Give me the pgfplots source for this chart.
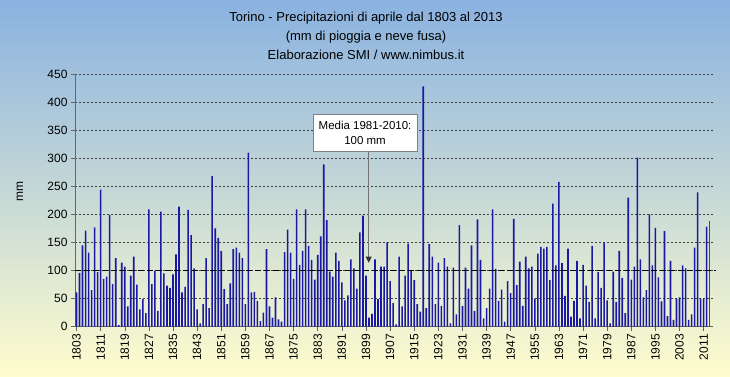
\documentclass[border=0pt]{standalone}
\usepackage{pgfplots}
\pgfplotsset{compat=1.18}
\usepackage{pgfplotstable}
\usetikzlibrary{arrows.meta}
\usepackage{fontspec}
\setmainfont{Liberation Sans}
\definecolor{bgtop}{RGB}{138,178,224}
\definecolor{bgbot}{RGB}{255,253,206}
\definecolor{barblue}{RGB}{25,25,165}
\pgfplotstableread{
year mm
1803 61
1804 96
1805 145
1806 171
1807 132
1808 65
1809 177
1810 97
1811 244
1812 85
1813 89
1814 199
1815 76
1816 122
1817 3
1818 114
1819 107
1820 36
1821 91
1822 125
1823 75
1824 31
1825 49
1826 24
1827 209
1828 76
1829 100
1830 28
1831 205
1832 95
1833 73
1834 69
1835 93
1836 129
1837 214
1838 61
1839 71
1840 208
1841 163
1842 104
1843 31
1844 6
1845 40
1846 122
1847 33
1848 268
1849 175
1850 158
1851 135
1852 67
1853 40
1854 77
1855 138
1856 141
1857 132
1858 122
1859 40
1860 310
1861 61
1862 62
1863 46
1864 10
1865 25
1866 138
1867 36
1868 16
1869 52
1870 13
1871 9
1872 133
1873 173
1874 132
1875 85
1876 209
1877 110
1878 135
1879 209
1880 144
1881 119
1882 84
1883 128
1884 161
1885 289
1886 190
1887 98
1888 89
1889 132
1890 117
1891 79
1892 47
1893 56
1894 120
1895 104
1896 68
1897 168
1898 198
1899 91
1900 16
1901 23
1902 120
1903 49
1904 107
1905 107
1906 150
1907 81
1908 42
1909 4
1910 125
1911 36
1912 91
1913 148
1914 99
1915 83
1916 40
1917 27
1918 428
1919 33
1920 147
1921 125
1922 40
1923 114
1924 37
1925 122
1926 107
1927 6
1928 105
1929 22
1930 181
1931 37
1932 105
1933 68
1934 145
1935 28
1936 191
1937 119
1938 15
1939 33
1940 68
1941 209
1942 103
1943 46
1944 66
1945 9
1946 81
1947 60
1948 192
1949 74
1950 116
1951 37
1952 125
1953 104
1954 107
1955 50
1956 130
1957 142
1958 139
1959 142
1960 83
1961 219
1962 109
1963 258
1964 113
1965 55
1966 139
1967 18
1968 46
1969 117
1970 15
1971 110
1972 73
1973 44
1974 144
1975 15
1976 97
1977 69
1978 150
1979 47
1980 6
1981 98
1982 44
1983 135
1984 87
1985 24
1986 230
1987 84
1988 107
1989 301
1990 120
1991 52
1992 65
1993 200
1994 109
1995 176
1996 88
1997 45
1998 170
1999 19
2000 117
2001 12
2002 50
2003 52
2004 109
2005 104
2006 12
2007 22
2008 141
2009 239
2010 50
2011 49
2012 178
}\datatable
\begin{document}
\begin{tikzpicture}[x=1pt,y=1pt]
\shade[top color=bgtop, bottom color=bgbot] (0pt,0pt) rectangle (730pt,377pt);
\useasboundingbox (0pt,0pt) rectangle (730pt,377pt);
\node[font=\fontsize{13}{15}\selectfont] at (366pt,359pt) {Torino - Precipitazioni di aprile dal 1803 al 2013};
\node[font=\fontsize{13}{15}\selectfont] at (366pt,340pt) {(mm di pioggia e neve fusa)};
\node[font=\fontsize{13}{15}\selectfont] at (366pt,322pt) {Elaborazione SMI / www.nimbus.it};
\node[font=\fontsize{12}{14}\selectfont, rotate=90] at (20pt,185pt) {mm};
\begin{axis}[
  at={(75pt,50.3pt)}, anchor=south west,
  scale only axis, width=637.7pt, height=252.7pt,
  xmin=1802.5, xmax=2014, ymin=0, ymax=450,
  axis x line=bottom, axis y line=left,
  axis line style={-, black!60, line width=0.6pt},
  xtick={1803,1811,...,2011},
  minor x tick num=7,
  ytick={0,50,...,450},
  tick align=outside,
  major tick length=4pt, minor tick length=3pt,
  tick style={black!60, line width=0.5pt},
  minor tick style={black!50, line width=0.4pt},
  /pgf/number format/assume math mode=true,
  /pgf/number format/1000 sep={},
  tick label style={font=\fontsize{12}{14}\selectfont},
  x tick label style={rotate=90, anchor=east},
  ymajorgrids,
  grid style={black!75, line width=0.5pt, dash pattern=on 2pt off 2pt},
  clip=false,
]
\addplot[ybar, bar width=1.6pt, bar shift=0pt, fill=barblue, draw=none] table[x=year,y=mm] {\datatable};
\addplot[ybar, bar width=1.6pt, bar shift=0pt, fill=red, draw=none] coordinates {(2013,188)};
\draw[black, line width=1pt, dash pattern=on 6pt off 3pt] (axis cs:1802.5,100) -- (axis cs:2015.1,100);
\draw[black!55, line width=0.7pt, -{Triangle[width=6pt,length=6pt,black!80]}] (axis cs:1899.9,313) -- (axis cs:1899.9,114);
\node[draw=black!50, fill=white, minimum width=104pt, minimum height=37pt, align=center, inner sep=1pt,
  font=\fontsize{11.5}{15}\selectfont] at (axis cs:1898.7,345.8) {Media 1981-2010:\\100 mm};
\end{axis}
\end{tikzpicture}
\end{document}
